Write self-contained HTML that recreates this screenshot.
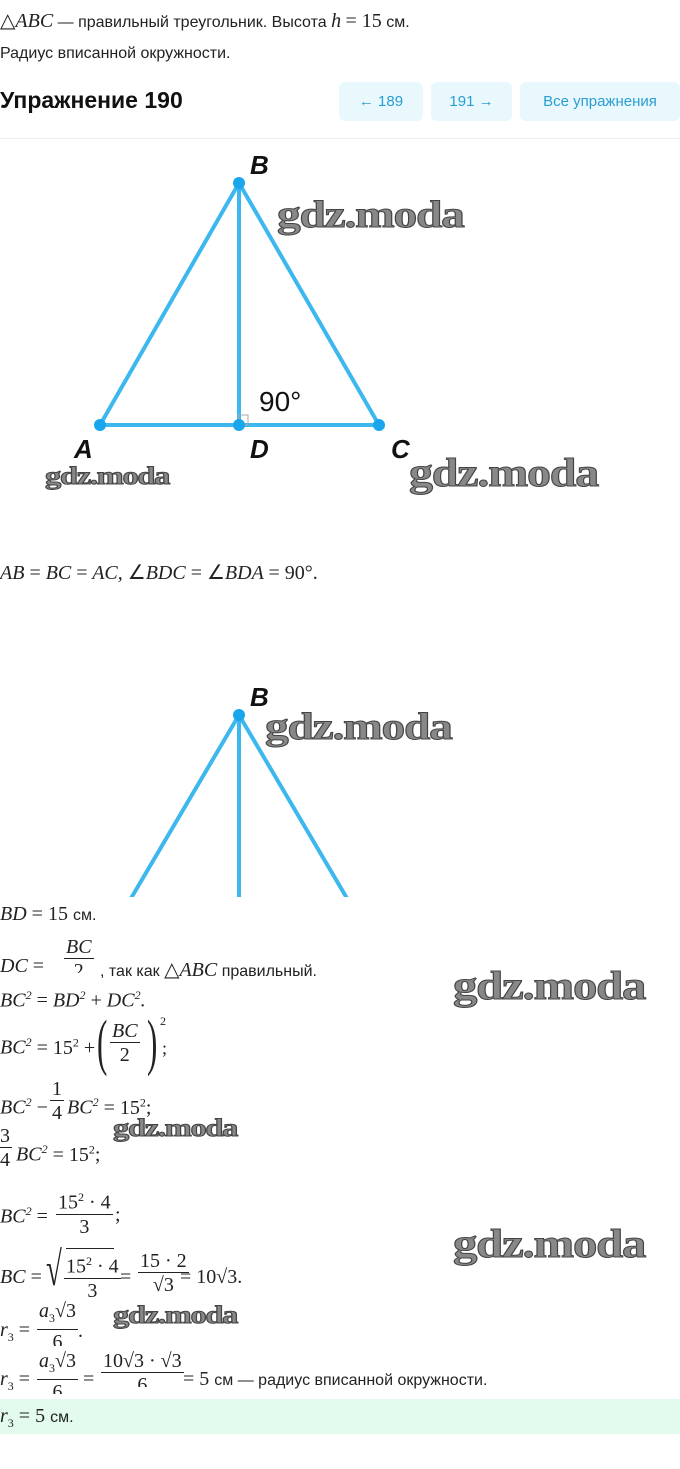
<!DOCTYPE html>
<html><head><meta charset="utf-8">
<style>
body{margin:0;width:680px;height:1469px;background:#fff;position:relative;overflow:hidden;font-family:"Liberation Sans",sans-serif;color:#222}
.a{position:absolute;white-space:nowrap}
.t{font-size:16px;font-family:"Liberation Sans",sans-serif}
.m{font-family:"Liberation Serif",serif;font-style:italic;font-size:20px}
.r{font-family:"Liberation Serif",serif;font-style:normal}
.wm{position:absolute;font-family:"Liberation Serif",serif;font-weight:bold;color:#888;-webkit-text-stroke:1px #444;white-space:nowrap;letter-spacing:-1px;transform-origin:left top}
.btn{position:absolute;top:82px;height:39px;background:#e9f8fd;border-radius:6px;color:#2a9ed3;font-size:15px;line-height:39px;text-align:center}
.fr{position:absolute;text-align:center;font-family:"Liberation Serif",serif;font-size:20px}
.fr .n{display:block;border-bottom:1px solid #222;line-height:22px;padding:0 2px}
.fr .d{display:block;line-height:24px}
</style></head><body>
<div class="a t" style="left:0;top:8px"><span class="m r">△</span><span class="m">ABC</span> — правильный треугольник. Высота <span class="m">h</span> <span class="m r">= 15</span> см.</div>
<div class="a t" style="left:0;top:45px">Радиус вписанной окружности.</div>
<div class="a" style="left:0;top:87px;font-size:23px;font-weight:bold;color:#111">Упражнение 190</div>
<div class="btn" style="left:339px;width:84px">← 189</div>
<div class="btn" style="left:431px;width:81px">191 →</div>
<div class="btn" style="left:520px;width:160px">Все упражнения</div>
<div class="a" style="left:0;top:138px;width:680px;height:1px;background:#eee"></div>

<svg class="a" style="left:0;top:0" width="680" height="900">
<g stroke="#3cb8ee" stroke-width="4" fill="none">
<path d="M100 425 L239 183 L379 425 Z M239 183 V425"/>
<path d="M239 715 L130 900 M239 715 V900 M239 715 L348 900"/>
</g>
<rect x="239" y="415" width="9" height="10" fill="none" stroke="#aaa" stroke-width="1"/>
<g fill="#1aa6ec"><circle cx="239" cy="183" r="6"/><circle cx="100" cy="425" r="6"/><circle cx="239" cy="425" r="6"/><circle cx="379" cy="425" r="6"/><circle cx="239" cy="715" r="6"/></g>
<rect x="0" y="897" width="680" height="3" fill="#fff"/>
<g font-family="Liberation Sans" font-style="italic" font-weight="bold" font-size="26" fill="#111">
<text x="250" y="174">B</text><text x="74" y="458">A</text><text x="250" y="458">D</text><text x="391" y="458">C</text><text x="250" y="706">B</text></g>
<text x="259" y="411" font-family="Liberation Sans" font-size="28" fill="#111">90°</text>
</svg>
<div class="wm" style="left:277px;top:193px;font-size:38px;transform:scaleX(1.25)">gdz.moda</div>
<div class="wm" style="left:45px;top:463px;font-size:25px;transform:scaleX(1.3)">gdz.moda</div>
<div class="wm" style="left:409px;top:449px;font-size:40px;transform:scaleX(1.2)">gdz.moda</div>
<div class="wm" style="left:265px;top:705px;font-size:38px;transform:scaleX(1.25)">gdz.moda</div>
<div class="wm" style="left:453px;top:962px;font-size:40px;transform:scaleX(1.22)">gdz.moda</div>
<div class="wm" style="left:113px;top:1115px;font-size:25px;transform:scaleX(1.3)">gdz.moda</div>
<div class="wm" style="left:453px;top:1220px;font-size:40px;transform:scaleX(1.22)">gdz.moda</div>
<div class="wm" style="left:113px;top:1302px;font-size:25px;transform:scaleX(1.3)">gdz.moda</div>

<div class="a m" style="left:0;top:560px">AB <span class="r">=</span> BC <span class="r">=</span> AC, <span class="r">∠</span>BDC <span class="r">= ∠</span>BDA <span class="r">= 90°.</span></div>

<div class="a m" style="left:0;top:903px">BD <span class="r">= 15</span> <span class="t" style="font-style:normal">см.</span></div>
<div class="a m" style="left:0;top:955px">DC <span class="r">=</span></div>
<div class="fr" style="left:64px;top:936px;font-style:italic"><span class="n">BC</span><span class="d" style="font-style:normal;height:14px;overflow:hidden">2</span></div>
<div class="a t" style="left:100px;top:957px">, так как <span class="m r">△</span><span class="m">ABC</span> правильный.</div>
<div class="a m" style="left:0;top:988px">BC<sup style="font-size:12px">2</sup> <span class="r">=</span> BD<sup style="font-size:12px">2</sup> <span class="r">+</span> DC<sup style="font-size:12px">2</sup>.</div>
<div class="a m" style="left:0;top:1035px">BC<sup style="font-size:12px">2</sup> <span class="r">= 15<sup style="font-size:12px">2</sup> +</span></div>
<div class="a r" style="left:97px;top:1008px;font-family:'Liberation Serif';font-size:62px;font-weight:100;transform:scaleX(0.5);transform-origin:left">(</div>
<div class="fr" style="left:110px;top:1020px;font-style:italic"><span class="n">BC</span><span class="d" style="font-style:normal">2</span></div>
<div class="a r" style="left:147px;top:1008px;font-family:'Liberation Serif';font-size:62px;transform:scaleX(0.5);transform-origin:left">)</div>
<div class="a" style="left:160px;top:1014px;font-family:'Liberation Serif';font-size:12px">2</div>
<div class="a" style="left:162px;top:1038px;font-family:'Liberation Serif';font-size:18px">;</div>

<div class="a m" style="left:0;top:1095px">BC<sup style="font-size:12px">2</sup> <span class="r">−</span></div>
<div class="fr" style="left:50px;top:1078px"><span class="n">1</span><span class="d">4</span></div>
<div class="a m" style="left:67px;top:1095px">BC<sup style="font-size:12px">2</sup> <span class="r">= 15<sup style="font-size:12px">2</sup>;</span></div>
<div class="fr" style="left:-2px;top:1125px"><span class="n">3</span><span class="d">4</span></div>
<div class="a m" style="left:16px;top:1142px">BC<sup style="font-size:12px">2</sup> <span class="r">= 15<sup style="font-size:12px">2</sup>;</span></div>

<div class="a m" style="left:0;top:1204px">BC<sup style="font-size:12px">2</sup> <span class="r">=</span></div>
<div class="fr" style="left:56px;top:1186px"><span class="n">15<sup style="font-size:12px">2</sup> · 4</span><span class="d">3</span></div>
<div class="a" style="left:115px;top:1204px;font-family:'Liberation Serif';font-size:20px">;</div>

<div class="a m" style="left:0;top:1266px">BC <span class="r">=</span></div>
<div class="a" style="left:46px;top:1242px;font-family:'Liberation Serif';font-size:48px;transform:scaleX(0.6);transform-origin:left">√</div>
<div class="a" style="left:66px;top:1248px;width:48px;height:1px;background:#222"></div>
<div class="fr" style="left:64px;top:1250px"><span class="n">15<sup style="font-size:12px">2</sup> · 4</span><span class="d">3</span></div>
<div class="a" style="left:120px;top:1266px;font-family:'Liberation Serif';font-size:20px">=</div>
<div class="fr" style="left:138px;top:1250px"><span class="n">15 · 2</span><span class="d">√3</span></div>
<div class="a" style="left:180px;top:1266px;font-family:'Liberation Serif';font-size:20px">= 10√3.</div>

<div class="a m" style="left:0;top:1319px">r<sub style="font-size:12px;font-style:normal">3</sub> <span class="r">=</span></div>
<div class="fr" style="left:37px;top:1300px"><span class="n"><i>a</i><sub style="font-size:12px">3</sub>√3</span><span class="d" style="height:16px;overflow:hidden">6</span></div>
<div class="a" style="left:78px;top:1320px;font-family:'Liberation Serif';font-size:20px">.</div>

<div class="a m" style="left:0;top:1368px">r<sub style="font-size:12px;font-style:normal">3</sub> <span class="r">=</span></div>
<div class="fr" style="left:37px;top:1350px"><span class="n"><i>a</i><sub style="font-size:12px">3</sub>√3</span><span class="d" style="height:14px;overflow:hidden">6</span></div>
<div class="a" style="left:83px;top:1368px;font-family:'Liberation Serif';font-size:20px">=</div>
<div class="fr" style="left:101px;top:1350px"><span class="n">10√3 · √3</span><span class="d" style="height:14px;overflow:hidden">6</span></div>
<div class="a" style="left:183px;top:1368px;font-family:'Liberation Serif';font-size:20px">= 5 <span class="t">см — радиус вписанной окружности.</span></div>

<div class="a" style="left:0;top:1399px;width:680px;height:35px;background:#e2fbec"></div>
<div class="a m" style="left:0;top:1405px">r<sub style="font-size:12px;font-style:normal">3</sub> <span class="r">= 5</span> <span class="t" style="font-style:normal">см.</span></div>
</body></html>
